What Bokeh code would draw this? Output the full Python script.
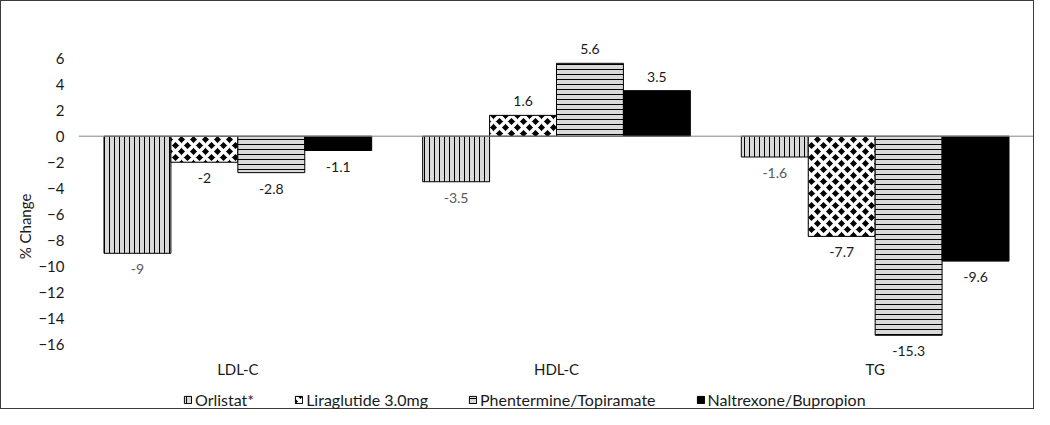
from bokeh.plotting import figure
from bokeh.models import (ColumnDataSource, FactorRange, Span, Legend, LegendItem,
                          FixedTicker, Title)
from bokeh.transform import dodge
from bokeh.core.properties import value
from bokeh.embed import file_html
from bokeh.resources import INLINE

categories = ["LDL-C", "HDL-C", "TG"]
series_names = ["Orlistat*", "Liraglutide 3.0mg", "Phentermine/Topiramate", "Naltrexone/Bupropion"]
orlistat = [-9, -3.5, -1.6]
liraglutide = [-2, 1.6, -7.7]
phentermine = [-2.8, 5.6, -15.3]
naltrexone = [-1.1, 3.5, -9.6]
y_ticks = [-16, -14, -12, -10, -8, -6, -4, -2, 0, 2, 4, 6]

FONT = "Lato"
series_values = [orlistat, liraglutide, phentermine, naltrexone]

p = figure(x_range=FactorRange(*categories, range_padding=0), y_range=(-21.08, 7.2),
           width=1034, height=409, output_backend="svg", toolbar_location=None,
           x_axis_location=None,
           min_border_left=77, min_border_right=1, min_border_top=41, min_border_bottom=0)

styles = [
    dict(fill_color="#d9d9d9", hatch_pattern="vertical_line", hatch_scale=5, hatch_weight=1, hatch_color="black"),
    dict(fill_color="black", hatch_pattern="diagonal_cross", hatch_scale=12, hatch_weight=3.5, hatch_color="white"),
    dict(fill_color="#d9d9d9", hatch_pattern="horizontal_line", hatch_scale=5, hatch_weight=1, hatch_color="black"),
    dict(fill_color="black"),
]
label_colors = ["#595959", "#1a1a1a", "#1a1a1a", "#1a1a1a"]

w = 0.21
offsets = [-1.5 * w, -0.5 * w, 0.5 * w, 1.5 * w]

items = []
for name, vals, st, off, lc in zip(series_names, series_values, styles, offsets, label_colors):
    src = ColumnDataSource(dict(
        cat=categories,
        val=vals,
        label=[f"{v:g}" for v in vals],
        yoff=[-14 if v > 0 else 16 for v in vals],
    ))
    r = p.vbar(x=dodge("cat", off, range=p.x_range), top="val", bottom=0, width=w, source=src,
               line_color="black", line_width=1, **st)
    p.text(x=dodge("cat", off, range=p.x_range), y="val", text="label", source=src,
           text_align="center", text_baseline="middle", y_offset="yoff",
           text_font=value(FONT), text_font_size="14px", text_color=lc)
    items.append(LegendItem(label=name, renderers=[r]))

# category labels, placed under the lowest tick of the value axis
cat_src = ColumnDataSource(dict(cat=categories, base=[min(y_ticks)] * len(categories)))
p.text(x="cat", y="base", text="cat", source=cat_src, text_align="center",
       text_baseline="middle", y_offset=25, text_font=value(FONT),
       text_font_size="15px", text_color="#1a1a1a")

p.add_layout(Span(location=0, dimension="width", line_color="#868686", line_width=1))

p.xgrid.visible = False
p.ygrid.visible = False
p.outline_line_color = None

p.yaxis.ticker = FixedTicker(ticks=y_ticks)
p.yaxis.axis_line_color = None
p.yaxis.major_tick_line_color = None
p.yaxis.minor_tick_line_color = None
p.yaxis.major_tick_out = 0
p.yaxis.major_label_standoff = 14
p.yaxis.major_label_text_font = FONT
p.yaxis.major_label_text_font_size = "15px"
p.yaxis.major_label_text_color = "#1a1a1a"

p.add_layout(Title(text="% Change", align="center", offset=-32, standoff=3,
                   text_font=FONT, text_font_size="15px", text_font_style="normal",
                   text_color="#1a1a1a"), "left")

legend = Legend(items=items, orientation="horizontal", location=(105, 1),
                glyph_width=9, glyph_height=9, label_standoff=3, spacing=40,
                padding=0, margin=0, border_line_color=None, background_fill_alpha=0,
                label_text_font=FONT, label_text_font_size="16px", label_height=16,
                label_text_color="#1a1a1a")
p.add_layout(legend)

p.styles = {"border": "1px solid #3c3c3c", "box-sizing": "border-box"}

open("out.html", "w").write(file_html(p, INLINE))
